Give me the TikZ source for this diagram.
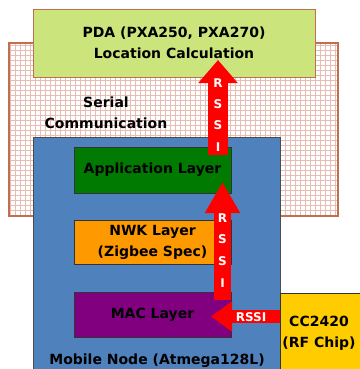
\documentclass[tikz,border=0pt]{standalone}
\usepackage{fontspec}
\setmainfont{DejaVu Sans}
\usetikzlibrary{arrows.meta}
\definecolor{pdagreen}{HTML}{CCE47C}
\definecolor{nodeblue}{HTML}{4F81BD}
\definecolor{appgreen}{HTML}{007A00}
\definecolor{nwkorange}{HTML}{FF9900}
\definecolor{macpurple}{HTML}{800080}
\definecolor{chipyellow}{HTML}{FFCC00}
\definecolor{serialred}{HTML}{C0704F}
\definecolor{gridpink}{HTML}{E8BCB2}
\tikzset{
  box/.style={draw=black!80, line width=0.8pt, inner sep=0pt, align=center,
    font=\bfseries\fontsize{14}{21}\selectfont},
  rssi/.style={line width=#1, red},
  letter/.style={text=white, font=\bfseries\fontsize{12}{12}\selectfont, inner sep=0pt}
}
\begin{document}
\begin{tikzpicture}[x=1pt,y=-1pt]
\useasboundingbox (0,0) rectangle (359,369);
% serial communication area
\draw[gridpink, line width=0.6pt, step=5pt] (9,43) grid (338,216);
\draw[serialred, line width=1.4pt] (9,43) rectangle (338,216);
\node[box, draw=none, anchor=center] (serial) at (106,113) {Serial\\Communication};
% PDA
\node[box, draw=serialred, fill=pdagreen, minimum width=282pt, minimum height=68pt] (pda) at (174,43) {PDA (PXA250, PXA270)\\Location Calculation};
% mobile node
\node[box, draw=black!70, fill=nodeblue, minimum width=247pt, minimum height=260pt] (mobile) at (156.5,267) {};
\node[box, draw=none] (mobname) at (157,361) {Mobile Node (Atmega128L)};
% layers
\node[box, fill=appgreen, minimum width=157pt, minimum height=46pt] (app) at (152.5,170) {Application Layer};
\coordinate (up1s) at (218,155);
\coordinate (up1e) at (218,60);
\draw[rssi=20pt, -{Triangle[length=23pt,width=38pt]}] (up1s) -- (up1e);
\node[box, fill=nwkorange, minimum width=157pt, minimum height=44pt] (nwk) at (152.5,242) {NWK Layer\\(Zigbee Spec)};
\node[box, fill=macpurple, minimum width=157pt, minimum height=45pt] (mac) at (152.5,314.5) {MAC Layer};
\coordinate (up2s) at (222.5,300);
\coordinate (up2e) at (222.5,182);
\draw[rssi=17pt, -{Triangle[length=31pt,width=33pt]}] (up2s) -- (up2e);
% RF chip
\node[box, fill=chipyellow, minimum width=90pt, minimum height=90pt, anchor=north west] (chip) at (280,293) {};
\node[box, draw=none] (chipname) at (319,333) {CC2420\\(RF Chip)};
\coordinate (leftend) at (211,316.5);
\draw[rssi=13pt, -{Triangle[length=21pt,width=29pt]}] (chip.west |- leftend) -- (leftend);
% arrow letters
\foreach \ch/\y in {R/83,S/104,S/125,I/147}
  \node[letter] at (218,\y) {\ch};
\foreach \ch/\y in {R/218,S/239,S/261,I/283}
  \node[letter] at (222.5,\y) {\ch};
\node[letter] (rssitext) at (251,317) {RSSI};
\end{tikzpicture}
\end{document}
